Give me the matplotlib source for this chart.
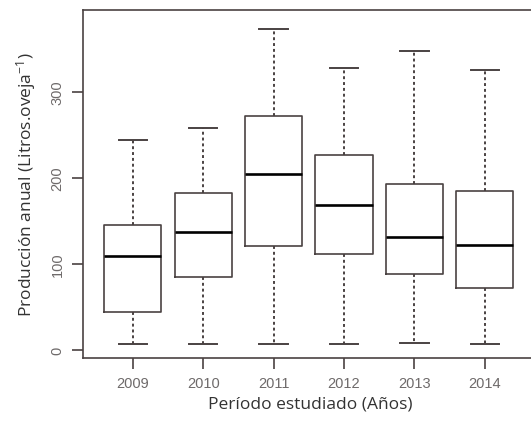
import matplotlib
matplotlib.use("Agg")
import matplotlib.pyplot as plt

years = ["2009", "2010", "2011", "2012", "2013", "2014"]
whisker_low = [6.5, 6.5, 6.5, 6.5, 8.1, 6.5]
q1 = [43.8, 85.2, 121.2, 111.0, 88.3, 72.4]
median = [108.8, 137.0, 204.4, 168.0, 131.6, 122.0]
q3 = [145.5, 182.0, 272.0, 226.5, 193.2, 185.0]
whisker_high = [244.0, 257.5, 373.5, 327.5, 347.6, 324.8]
yticks = [0, 100, 200, 300]

plt.rcParams["mathtext.fontset"] = "custom"
plt.rcParams["mathtext.rm"] = "Open Sans"
plt.rcParams["mathtext.it"] = "Open Sans"
plt.rcParams["mathtext.default"] = "regular"

line_col = "#4a4242"
W, H = 531, 427
fig = plt.figure(figsize=(W / 100, H / 100), dpi=100)
ax = fig.add_axes([82.7 / W, (H - 359) / H, (537 - 82.7) / W, (359 - 11) / H])

stats = []
for i, y in enumerate(years):
    stats.append(dict(label=y, whislo=whisker_low[i], q1=q1[i], med=median[i],
                      q3=q3[i], whishi=whisker_high[i], fliers=[]))
pos = list(range(1, len(years) + 1))
ax.bxp(stats, positions=pos, widths=0.81, showfliers=False,
       boxprops=dict(color=line_col, linewidth=1.2),
       medianprops=dict(color="black", linewidth=1.9),
       whiskerprops=dict(color=line_col, linewidth=1.4, linestyle=(0, (1.5, 1.5))),
       capprops=dict(color=line_col, linewidth=1.4),
       capwidths=0.4)

ax.set_xlim(0.29, 6.74)
ax.set_ylim(-9.3, 395)
for s in ax.spines.values():
    s.set_color(line_col)
    s.set_linewidth(1.2)

ax.set_xticks(pos)
ax.set_xticklabels(years)
ax.set_yticks(yticks)
ax.set_yticklabels([str(t) for t in yticks], rotation=90, va="center")
ax.tick_params(axis="both", colors=line_col, length=8, width=1.2,
               labelcolor="#6e6a6a", labelsize=10.5, pad=5)
for lab in ax.get_xticklabels() + ax.get_yticklabels():
    lab.set_family("Liberation Sans")

ax.set_xlabel("Período estudiado (Años)", family="Open Sans", fontsize=12.5,
              color="#333333", labelpad=4)
ax.set_ylabel("Producción anual (Litros.oveja$^{-1}$)", family="Open Sans",
              fontsize=12.5, color="#333333", labelpad=9)

fig.savefig("out.png", dpi=100)
